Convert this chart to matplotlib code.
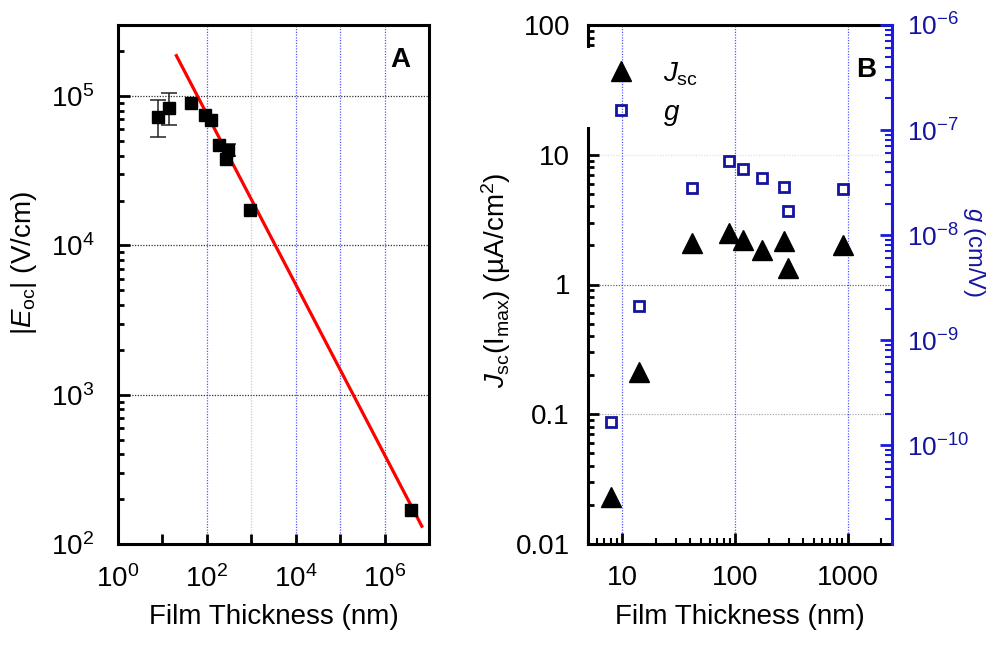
import matplotlib
matplotlib.use('Agg')
import matplotlib.pyplot as plt
from matplotlib.ticker import LogLocator, NullLocator, NullFormatter
from matplotlib.patches import Rectangle

plt.rcParams['font.family'] = ['Liberation Sans', 'DejaVu Sans']
plt.rcParams['mathtext.fontset'] = 'custom'
plt.rcParams['mathtext.rm'] = 'Liberation Sans'
plt.rcParams['mathtext.it'] = 'Liberation Sans:italic'
plt.rcParams['mathtext.bf'] = 'Liberation Sans:bold'
plt.rcParams['axes.unicode_minus'] = False

# ---------------- data: panel A ----------------
thickA = [8.1, 14.3, 43.4, 91, 124, 188, 305, 271, 940, 4.0e6]
eocA = [72800, 84000, 90300, 75400, 68800, 46800, 43400, 38100, 17200, 170]
err_thick = [8.1, 14.3, 305]
err_val = [72800, 84000, 43400]
err_lo = [72800 - 53200, 84000 - 63700, 43400 - 39500]
err_hi = [94000 - 72800, 105400 - 84000, 47500 - 43400]
fit_thick = [20.6, 6.9e6]
fit_eoc = [1.87e5, 131.5]
xticksA = [1e0, 1e1, 1e2, 1e3, 1e4, 1e5, 1e6, 1e7]
xticklabelsA = [r'$10^{0}$', '', r'$10^{2}$', '', r'$10^{4}$', '', r'$10^{6}$', '']

# ---------------- data: panel B ----------------
thickB = [8.0, 14.1, 42, 88.5, 119, 176, 271, 298, 913]
jsc = [0.023, 0.21, 2.1, 2.5, 2.2, 1.85, 2.15, 1.35, 2.0]
gval = [1.67e-10, 2.1e-9, 2.8e-8, 5.1e-8, 4.3e-8, 3.5e-8, 2.9e-8, 1.7e-8, 2.75e-8]
yticksB = [0.01, 0.1, 1, 10, 100]
yticklabelsB = ['0.01', '0.1', '1', '10', '100']
xticksB = [10, 100, 1000]
xticklabelsB = ['10', '100', '1000']

BLUE = '#1414a0'
SPINEBLUE = '#1a1ae0'
FS = 20

fig = plt.figure(figsize=(10.05, 6.54), dpi=100)
axA = fig.add_axes([118/1005, 110/654, 311/1005, 519/654])
axB = fig.add_axes([588/1005, 110/654, 304/1005, 519/654])

# ---------------- panel A ----------------
axA.set_xscale('log'); axA.set_yscale('log')
axA.set_xlim(1, 1e7); axA.set_ylim(100, 3e5)
for v, a in [(1e2, 0.85), (1e3, 0.3), (1e4, 0.85), (1e5, 0.85), (1e6, 0.85)]:
    axA.axvline(v, color='#3a3aff', ls=(0, (1, 1.2)), lw=0.9, alpha=a, zorder=1)
for h in [1e3, 1e4, 1e5]:
    axA.axhline(h, color='#333333', ls=(0, (1, 1.2)), lw=0.9, zorder=1)

axA.plot(fit_thick, fit_eoc, color='#ff0000', lw=2.3, zorder=4)
axA.errorbar(err_thick, err_val, yerr=[err_lo, err_hi], fmt='none', ecolor='#222222',
             elinewidth=1.1, capsize=5.5, capthick=1.1, zorder=3)
axA.plot(thickA, eocA, ls='none', marker='s', ms=8.5, color='black', zorder=5)

axA.set_xticks(xticksA)
axA.set_xticklabels(xticklabelsA)
axA.xaxis.set_minor_locator(NullLocator())
axA.yaxis.set_major_locator(LogLocator(base=10, numticks=10))
axA.yaxis.set_minor_locator(LogLocator(base=10, subs=range(2, 10), numticks=20))
axA.yaxis.set_minor_formatter(NullFormatter())
axA.tick_params(axis='both', which='both', direction='in', top=False, right=False, labelsize=FS)
axA.tick_params(axis='x', which='major', length=7, width=2, pad=15)
axA.tick_params(axis='y', which='major', length=8.5, width=2, pad=17)
axA.tick_params(axis='y', which='minor', length=4, width=2)
for s in axA.spines.values():
    s.set_linewidth(2.2)

axA.set_ylabel(r'|$E_{\rm oc}$| (V/cm)', fontsize=FS)
axA.yaxis.set_label_coords(-0.255, 0.541)
axA.set_xlabel('Film Thickness (nm)', fontsize=FS)
axA.xaxis.set_label_coords(0.5, -0.115)
axA.text(0.907, 0.933, 'A', transform=axA.transAxes, fontsize=20, fontweight='bold',
         ha='center', va='center')

# ---------------- panel B ----------------
axB.set_xscale('log'); axB.set_yscale('log')
axB.set_xlim(5, 2480); axB.set_ylim(0.01, 100)
for v in xticksB:
    axB.axvline(v, color='#3a3aff', ls=(0, (1, 1.2)), lw=0.9, alpha=0.85, zorder=1)
for h, a in [(1, 0.8), (0.1, 0.45), (10, 0.15)]:
    axB.axhline(h, color='#444444', ls=(0, (1, 1.2)), lw=0.9, alpha=a, zorder=1)

h1, = axB.plot(thickB, jsc, ls='none', marker='^', ms=15, color='black', zorder=5,
               label=r'$J_{\rm sc}$')
axB.set_yticks(yticksB)
axB.set_yticklabels(yticklabelsB)
axB.yaxis.set_minor_locator(LogLocator(base=10, subs=range(2, 10), numticks=20))
axB.yaxis.set_minor_formatter(NullFormatter())
axB.set_xticks(xticksB)
axB.set_xticklabels(xticklabelsB)
axB.xaxis.set_minor_locator(LogLocator(base=10, subs=range(2, 10), numticks=20))
axB.xaxis.set_minor_formatter(NullFormatter())
axB.tick_params(axis='both', which='both', direction='in', top=False, right=False, labelsize=FS)
axB.tick_params(axis='x', which='major', length=8, width=2, pad=15)
axB.tick_params(axis='x', which='minor', length=4, width=1.5)
axB.tick_params(axis='y', which='major', length=8, width=2, pad=13)
axB.tick_params(axis='y', which='minor', length=4, width=2)
for s in axB.spines.values():
    s.set_linewidth(2.2)
axB.spines['right'].set_visible(False)

axB.set_ylabel(r'$J_{\rm sc}$(I$_{\rm max}$) (µA/cm$^{2}$)', fontsize=FS)
axB.yaxis.set_label_coords(-0.247, 0.509)
axB.set_xlabel('Film Thickness (nm)', fontsize=FS)
axB.xaxis.set_label_coords(0.5, -0.115)

ax2 = axB.twinx()
ax2.set_yscale('log')
ax2.set_ylim(1.15e-11, 1e-6)
ax2.xaxis.set_visible(False)
h2, = ax2.plot(thickB, gval, ls='none', marker='s', ms=7.5, mfc='none', mec=BLUE, mew=2.0,
               zorder=5, label=r'$g$')
for k in ['left', 'top', 'bottom']:
    ax2.spines[k].set_visible(False)
ax2.spines['right'].set_color(SPINEBLUE)
ax2.spines['right'].set_linewidth(2.2)
ax2.yaxis.set_major_locator(LogLocator(base=10, numticks=10))
ax2.yaxis.set_minor_locator(LogLocator(base=10, subs=range(2, 10), numticks=20))
ax2.yaxis.set_minor_formatter(NullFormatter())
ax2.tick_params(axis='y', which='both', direction='in', colors=SPINEBLUE, labelcolor=BLUE,
                labelsize=19)
ax2.tick_params(axis='y', which='major', length=9, width=2, pad=11)
ax2.tick_params(axis='y', which='minor', length=5, width=1.5)
ax2.set_ylabel(r'$g$ (cm/V)', fontsize=17, color=BLUE, rotation=270, va='center',
               ha='center')
ax2.yaxis.set_label_coords(1.27, 0.563)

# white legend backdrop covering the left spine, as in the original
ax2.add_patch(Rectangle((-0.02, 0.803), 0.06, 0.153, transform=axB.transAxes,
                        facecolor='white', edgecolor='none', clip_on=False, zorder=3))
leg = ax2.legend(handles=[h1, h2], loc='upper left', bbox_to_anchor=(0.0, 0.97),
                 frameon=False, fontsize=FS, handlelength=1.0, handletextpad=1.0,
                 labelspacing=0.45, borderpad=0.2)
leg.set_zorder(6)
ax2.text(0.914, 0.913, 'B', transform=axB.transAxes, fontsize=20, fontweight='bold',
         ha='center', va='center')

fig.savefig('out.png', dpi=100)
